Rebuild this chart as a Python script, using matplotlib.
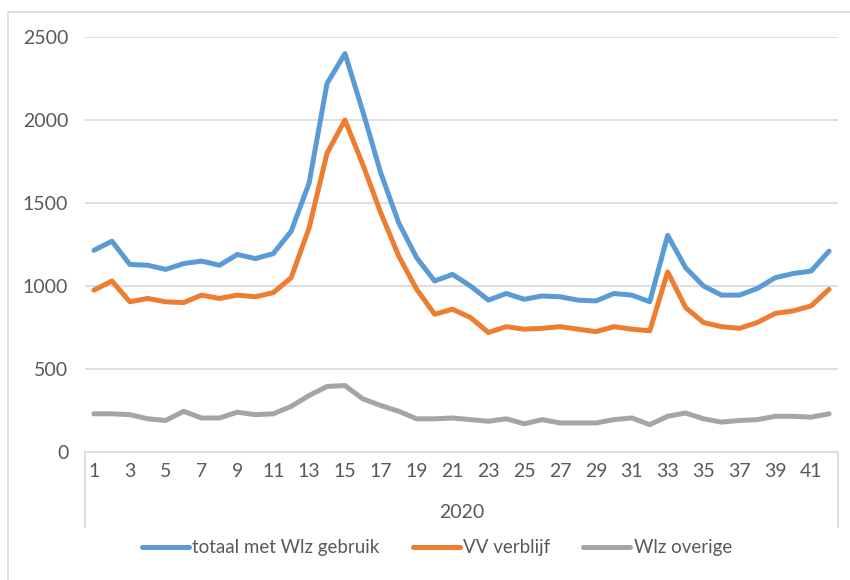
import numpy as np
import matplotlib
matplotlib.use("Agg")
import matplotlib.pyplot as plt
from matplotlib.patches import Rectangle
from matplotlib.lines import Line2D

weeks = list(range(1, 43))
totaal = [1215, 1270, 1130, 1125, 1100, 1135, 1150, 1125, 1190, 1165,
          1195, 1330, 1620, 2220, 2400, 2050, 1680, 1380, 1170, 1030,
          1070, 1000, 915, 955, 920, 940, 935, 915, 910, 955,
          945, 905, 1305, 1110, 1000, 945, 945, 985, 1050, 1075,
          1090, 1210]
vv = [975, 1030, 905, 925, 905, 900, 945, 925, 945, 935,
      960, 1050, 1350, 1800, 2000, 1730, 1440, 1180, 980, 830,
      860, 810, 720, 755, 740, 745, 755, 740, 725, 755,
      740, 730, 1085, 870, 780, 755, 745, 780, 835, 850,
      880, 980]
overige = [230, 230, 225, 200, 190, 245, 205, 205, 240, 225,
           230, 275, 340, 395, 400, 320, 280, 245, 200, 200,
           205, 195, 185, 200, 170, 195, 175, 175, 175, 195,
           205, 165, 215, 235, 200, 180, 190, 195, 215, 215,
           210, 230]
series_names = ["totaal met Wlz gebruik", "VV verblijf", "Wlz overige"]
year_label = "2020"
yticks = [0, 500, 1000, 1500, 2000, 2500]

colors = ["#5B9BD5", "#ED7D31", "#A5A5A5"]
txt = "#595959"
grid = "#D9D9D9"

plt.rcParams['font.family'] = ['Lato', 'DejaVu Sans']

W, H = 850, 580
fig = plt.figure(figsize=(W / 100, H / 100), dpi=100)
left, right, top, bottom = 85, 838, 37, 452
ax = fig.add_axes([left / W, 1 - bottom / H, (right - left) / W, (bottom - top) / H])

for vals, c, n in zip([totaal, vv, overige], colors, series_names):
    ax.plot(weeks, vals, color=c, lw=3.6, label=n, solid_joinstyle='round', solid_capstyle='round')

ax.set_xlim(0.5, 42.5)
ax.set_ylim(0, 2500)
ax.set_yticks(yticks)
ax.set_yticklabels([str(v) for v in yticks], color=txt, fontsize=14)
ax.set_xticks(weeks[::2])
ax.set_xticklabels([str(w) for w in weeks[::2]], color=txt, fontsize=14)
ax.tick_params(axis='both', length=0)
ax.tick_params(axis='y', pad=12)
ax.tick_params(axis='x', pad=8)
ax.grid(axis='y', color=grid, lw=1.2)
ax.set_axisbelow(True)
for s in ['top', 'right', 'left']:
    ax.spines[s].set_visible(False)
ax.spines['bottom'].set_color(grid)
ax.spines['bottom'].set_linewidth(1.2)

# category group box
depth = (527 - 452) / (bottom - top)
for xa in (0, 1):
    ax.add_line(Line2D([xa, xa], [0, -depth], transform=ax.transAxes, color=grid, lw=1.2, clip_on=False))
ax.text(0.5, -(512 - 452) / (bottom - top), year_label, transform=ax.transAxes,
        ha='center', va='center', color=txt, fontsize=14)

# legend
fig.legend(loc='center', bbox_to_anchor=(437 / W, 1 - 548 / H), ncol=3,
           frameon=False, fontsize=13.5, handlelength=2.5, handletextpad=0.2, columnspacing=1.75,
           labelcolor=txt)

# outer border
fig.add_artist(Rectangle((8 / W, -0.05), 1.1, 1 - 12 / H + 0.05, transform=fig.transFigure,
                         fill=False, edgecolor=grid, lw=1.2))

fig.savefig("out.png", dpi=100)
